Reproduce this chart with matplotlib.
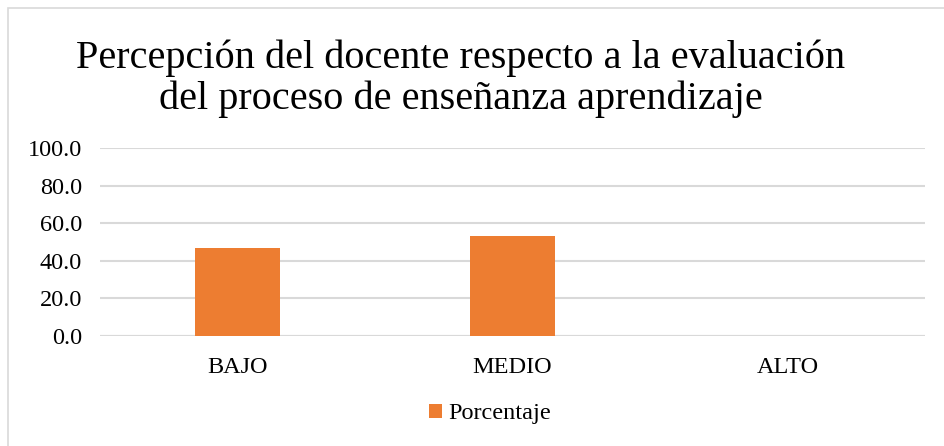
import matplotlib
matplotlib.use("Agg")
import matplotlib.pyplot as plt
from matplotlib.patches import Rectangle

categories = ["BAJO", "MEDIO", "ALTO"]
porcentaje = [46.7, 53.3, 0.0]
yticks = [0, 20, 40, 60, 80, 100]
title = "Percepción del docente respecto a la evaluación\ndel proceso de enseñanza aprendizaje"
series_name = "Porcentaje"

plt.rcParams['font.family'] = ['Liberation Serif', 'DejaVu Serif']
SERIF = ['Liberation Serif', 'DejaVu Serif']

W, H = 945, 446
fig = plt.figure(figsize=(W / 100, H / 100), dpi=100)
fig.patch.set_facecolor("white")

# outer chart border
fig.patches.append(Rectangle((8 / W, -0.05), 1.1, (H - 8) / H + 0.05,
                             transform=fig.transFigure, fill=False,
                             edgecolor="#d9d9d9", linewidth=1.2))

left, right = 100 / W, 925 / W
bottom, top = 1 - 336 / H, 1 - 148 / H
ax = fig.add_axes([left, bottom, right - left, top - bottom])

x = list(range(len(categories)))
ax.bar(x, porcentaje, width=0.31, color="#ED7D31", label=series_name, zorder=3)

ax.set_xlim(-0.5, len(categories) - 0.5)
ax.set_ylim(0, 100)
ax.set_yticks(yticks)
ax.set_yticklabels([f"{v:.1f}" for v in yticks], fontsize=17.5, color="#000000")
ax.set_xticks(x)
ax.set_xticklabels(categories, fontsize=17.5, color="#000000")
ax.tick_params(axis="both", length=0)
ax.tick_params(axis="y", pad=13)
ax.tick_params(axis="x", pad=15)
ax.grid(axis="y", color="#d9d9d9", linewidth=1.5, zorder=0)
for s in ax.spines.values():
    s.set_visible(False)
ax.axhline(0, color="#d9d9d9", linewidth=1.5, zorder=2)

fig.text(0.4875, 1 - 79 / H, title, ha="center", va="center", fontsize=29,
         linespacing=1.12, family=SERIF)

leg = fig.legend(loc="center", bbox_to_anchor=(490 / W, 1 - 414 / H),
                 frameon=False, prop={'family': SERIF, 'size': 17.5},
                 handlelength=0.55, handleheight=0.55, handletextpad=0.25)

fig.savefig("out.png", dpi=100)
